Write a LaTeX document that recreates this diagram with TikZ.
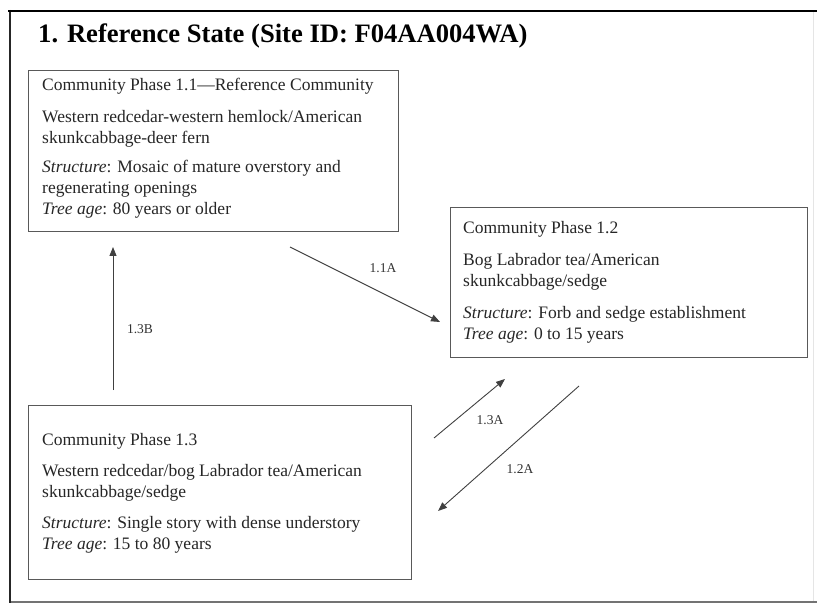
\documentclass[tikz,border=0pt]{standalone}
\usepackage{fontspec}
\setmainfont{Liberation Serif}
\usetikzlibrary{arrows.meta}
\begin{document}
\begin{tikzpicture}[x=1pt,y=-1pt,
  phasebox/.style={draw=black!65, line width=1.2pt, anchor=north west, inner sep=0pt},
  phasetext/.style={anchor=north west, align=left, inner sep=0pt, text=black!85, font=\fontsize{17.5}{21}\selectfont},
  conn/.style={draw=black!75, line width=0.9pt, -{Triangle[length=9pt,width=7pt]}},
  connlabel/.style={font=\fontsize{13.5}{15}\selectfont, text=black!80, inner sep=0pt}]
\useasboundingbox (0,0) rectangle (817,604);
% outer frame
\draw[black!10, line width=1pt] (813,11) -- (813,602);
\draw[black!55, line width=1.5pt] (10,602) -- (817,602);
\draw[black!85, line width=2pt] (10,10) -- (10,603);
\draw[black, line width=2.5pt] (8,11) -- (817,11);
% title
\node[anchor=base west, inner sep=0pt, font=\fontsize{26.6}{30}\selectfont\bfseries] (title) at (38,43) {1. Reference State (Site ID: F04AA004WA)};
% boxes
\node[phasebox, minimum width=370pt, minimum height=161pt] (b11) at (28,70) {};
\node[phasebox, minimum width=357pt, minimum height=150pt] (b12) at (450,207) {};
\node[phasebox, minimum width=383pt, minimum height=174pt] (b13) at (28,405) {};
% texts
\node[phasetext] (t11) at (42,78) {Community Phase 1.1---Reference Community\\[11pt]
Western redcedar-western hemlock/American\\ skunkcabbage-deer fern\\[8pt]
\textit{Structure}: Mosaic of mature overstory and\\ regenerating openings\\ \textit{Tree age}: 80 years or older};
\node[phasetext] (t12) at (463,221) {Community Phase 1.2\\[11pt]
Bog Labrador tea/American\\ skunkcabbage/sedge\\[11pt]
\textit{Structure}: Forb and sedge establishment\\ \textit{Tree age}: 0 to 15 years};
\node[phasetext] (t13) at (42,433) {Community Phase 1.3\\[10pt]
Western redcedar/bog Labrador tea/American\\ skunkcabbage/sedge\\[10pt]
\textit{Structure}: Single story with dense understory\\ \textit{Tree age}: 15 to 80 years};
% arrow end points
\coordinate (p13Bs) at (113,390);
\coordinate (p13Be) at (113,247);
\coordinate (p11As) at (290,247);
\coordinate (p11Ae) at (440,322);
\coordinate (p13As) at (434,438);
\coordinate (p13Ae) at (505,379);
\coordinate (p12As) at (579,386);
\coordinate (p12Ae) at (438,511);
\draw[conn] (p13Bs) -- (p13Be);
\draw[conn] (p11As) -- (p11Ae);
\draw[conn] (p13As) -- (p13Ae);
\draw[conn] (p12As) -- (p12Ae);
% labels
\node[connlabel] (l13B) at (140,329) {1.3B};
\node[connlabel] (l11A) at (383,268) {1.1A};
\node[connlabel] (l13A) at (490,420) {1.3A};
\node[connlabel] (l12A) at (520,469) {1.2A};
\end{tikzpicture}
\end{document}
